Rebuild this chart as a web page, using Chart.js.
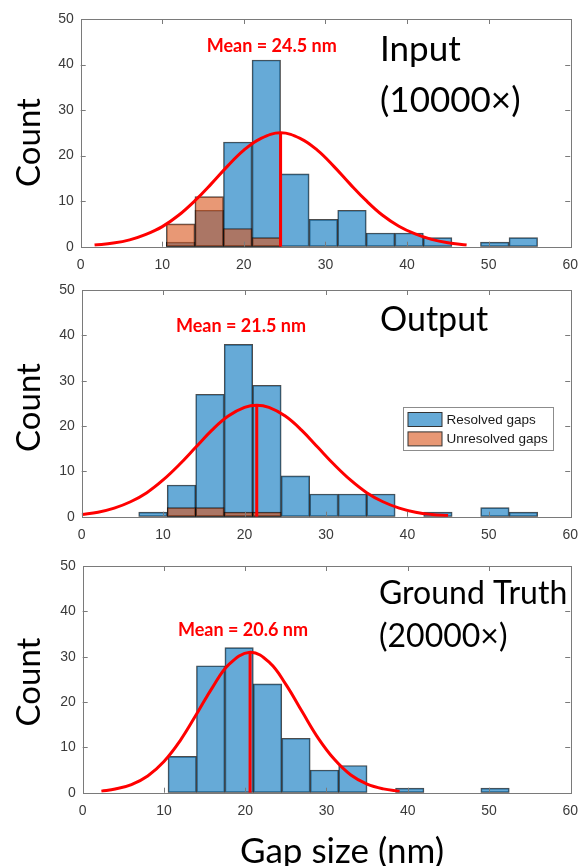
<!DOCTYPE html>
<html>
<head>
<meta charset="utf-8">
<script src="https://cdn.jsdelivr.net/npm/chart.js@4.4.0/dist/chart.umd.min.js"></script>
<style>
  html, body { margin: 0; padding: 0; background: #fff; }
  #wrap { position: relative; width: 588px; height: 866px; }
  #wrap canvas { position: absolute; left: 0; top: 0; }
</style>
</head>
<body>
<div id="wrap">
  <canvas id="chartInput" width="588" height="866"></canvas>
  <canvas id="chartOutput" width="588" height="866"></canvas>
  <canvas id="chartTruth" width="588" height="866"></canvas>
</div>
<script>
// histogram bins, 3.5 nm wide (7 ... 56 nm)
const binCenters = [8.75, 12.25, 15.75, 19.25, 22.75, 26.25, 29.75, 33.25, 36.75, 40.25, 43.75, 47.25, 50.75, 54.25];

const inputResolved   = [0, 1, 8, 23, 41, 16, 6, 8, 3, 3, 2, 0, 1, 2];
const inputUnresolved = [0, 5, 11, 4, 2, 0, 0, 0, 0, 0, 0, 0, 0, 0];
const outputResolved   = [1, 7, 27, 38, 29, 9, 5, 5, 5, 0, 1, 0, 2, 1];
const outputUnresolved = [0, 2, 2, 1, 1, 0, 0, 0, 0, 0, 0, 0, 0, 0];
const truthResolved = [0, 8, 28, 32, 24, 12, 5, 6, 0, 1, 0, 0, 1, 0];

// fitted normal curves
const inputFitX = [1.7, 4, 6, 8, 10, 12, 14, 16, 18, 20, 22, 24.5, 27, 29, 31, 33, 35, 37, 39, 41, 43, 45, 47.3];
const inputFitY = [0.35, 0.8, 1.5, 2.7, 4.4, 6.9, 10.1, 13.8, 17.7, 21.2, 23.7, 25, 23.7, 21.2, 17.7, 13.8, 10.1, 6.9, 4.5, 2.8, 1.6, 0.85, 0.35];
const outputFitX = [0, 2, 4, 6, 8, 10, 12, 14, 16, 18, 20, 21.5, 23, 25, 27, 29, 31, 33, 35, 37, 39, 41, 43, 45];
const outputFitY = [0.5, 1.0, 1.9, 3.3, 5.3, 8.1, 11.5, 15.3, 19.1, 22.2, 24.1, 24.6, 24.1, 22.2, 19.1, 15.3, 11.5, 8.1, 5.3, 3.3, 1.9, 1.0, 0.5, 0.25];
const truthFitX = [2.3, 4, 6, 8, 10, 12, 14, 16, 18, 20.6, 23, 25, 27, 29, 31, 33, 35, 37, 39];
const truthFitY = [0.35, 0.8, 1.8, 3.7, 6.9, 11.5, 17.3, 23.3, 28.3, 31, 28.7, 23.9, 17.9, 12.0, 7.3, 3.9, 1.9, 0.85, 0.35];

const meanValues = [24.5, 21.5, 20.6];
const meanPeaks = [25, 24.6, 31];
const meanLabels = ['Mean = 24.5 nm', 'Mean = 21.5 nm', 'Mean = 20.6 nm'];
const panelTitles = [['Input', '(10000×)'], ['Output'], ['Ground Truth', '(20000×)']];
const seriesNames = ['Resolved gaps', 'Unresolved gaps'];

const blueFill = 'rgba(0,114,189,0.6)';
const orangeFill = 'rgba(217,83,25,0.6)';
const tickFont = { family: "'Liberation Sans', Arial, sans-serif", size: 14 };
const textFamily = "Lato, 'Open Sans', sans-serif";

function toBars(values) {
    return binCenters.map((x, i) => ({ x: x, y: values[i] === 0 ? null : values[i] }));
}

function toLine(xs, ys) {
    return xs.map((x, i) => ({ x: x, y: ys[i] }));
}

const panelDecor = {
    id: 'panelDecor',
    afterDatasetsDraw(chart, args, opts) {
        const ctx = chart.ctx;
        const a = chart.chartArea;
        const xs = chart.scales.x, ys = chart.scales.y;
        ctx.save();
        ctx.strokeStyle = '#7a7a7a';
        ctx.lineWidth = 1;
        ctx.beginPath();
        for (let v = 10; v < 60; v += 10) {
            let px = Math.round(xs.getPixelForValue(v)) + 0.5;
            ctx.moveTo(px, a.bottom); ctx.lineTo(px, a.bottom - 5);
            ctx.moveTo(px, a.top); ctx.lineTo(px, a.top + 5);
        }
        for (let v = 10; v < 50; v += 10) {
            let py = Math.round(ys.getPixelForValue(v)) + 0.5;
            ctx.moveTo(a.left, py); ctx.lineTo(a.left + 5, py);
            ctx.moveTo(a.right, py); ctx.lineTo(a.right - 5, py);
        }
        ctx.stroke();
        ctx.strokeRect(Math.round(a.left) + 0.5, Math.round(a.top) + 0.5,
            Math.round(a.right - a.left), Math.round(a.bottom - a.top));
        ctx.restore();
    },
    afterDraw(chart, args, opts) {
        const ctx = chart.ctx;
        ctx.save();
        // y title
        ctx.fillStyle = '#000';
        ctx.font = '33px ' + textFamily;
        ctx.translate(40, opts.countY);
        ctx.rotate(-Math.PI / 2);
        ctx.textAlign = 'center';
        ctx.textBaseline = 'alphabetic';
        ctx.fillText('Count', 0, 0);
        ctx.restore();

        ctx.save();
        ctx.fillStyle = '#ff0000';
        ctx.font = 'bold 18px ' + textFamily;
        ctx.textAlign = 'center';
        ctx.textBaseline = 'middle';
        ctx.fillText(opts.meanText, opts.meanPos[0], opts.meanPos[1]);

        ctx.fillStyle = '#000';
        ctx.textAlign = 'left';
        ctx.textBaseline = 'alphabetic';
        ctx.font = opts.titleSize + 'px ' + textFamily;
        opts.title.forEach((line, i) => {
            ctx.fillText(line, opts.titlePos[0], opts.titlePos[1] + i * opts.titleGap);
        });

        if (opts.xTitle) {
            ctx.font = '35px ' + textFamily;
            ctx.textAlign = 'center';
            ctx.fillText(opts.xTitle, 342, 863);
        }

        if (opts.legend) {
            const bars = chart.data.datasets.filter(d => d.type !== 'line').reverse();
            const lx = 403.5, ly = 407.5, lw = 150, lh = 43;
            ctx.fillStyle = '#fff';
            ctx.fillRect(lx, ly, lw, lh);
            ctx.strokeStyle = '#8c8c8c';
            ctx.lineWidth = 1;
            ctx.strokeRect(lx, ly, lw, lh);
            ctx.font = '13.5px ' + tickFont.family;
            ctx.textBaseline = 'middle';
            ctx.textAlign = 'left';
            bars.forEach((d, i) => {
                let sy = 412.5 + i * 19.4;
                ctx.fillStyle = d.backgroundColor;
                ctx.fillRect(408, sy, 34, 14);
                ctx.strokeStyle = '#333';
                ctx.strokeRect(408, sy, 34, 14);
                ctx.fillStyle = '#1a1a1a';
                ctx.fillText(d.label, 446.5, sy + 7.5);
            });
        }
        ctx.restore();
    }
};

function renderPanel(canvasId, p) {
    let datasets = [
        {
            type: 'line', label: 'fit', data: toLine(p.fitX, p.fitY),
            borderColor: '#ff0000', borderWidth: 3, pointRadius: 0, tension: 0.4, fill: false, order: 0
        },
        {
            type: 'line', label: 'mean', data: [{ x: p.mean, y: 0 }, { x: p.mean, y: p.peak }],
            borderColor: '#ff0000', borderWidth: 3, pointRadius: 0, tension: 0, fill: false, order: 0
        }
    ];
    if (p.unresolved) {
        datasets.push({
            label: seriesNames[1], data: toBars(p.unresolved), backgroundColor: orangeFill,
            borderColor: 'rgba(0,0,0,0.7)', borderWidth: 1, borderSkipped: false,
            grouped: false, barPercentage: 1, categoryPercentage: 1, order: 1
        });
    }
    datasets.push({
        label: seriesNames[0], data: toBars(p.resolved), backgroundColor: blueFill,
        borderColor: 'rgba(0,0,0,0.7)', borderWidth: 1, borderSkipped: false,
        grouped: false, barPercentage: 1, categoryPercentage: 1, order: 2
    });

    let config = {
        type: 'bar',
        data: { datasets: datasets },
        options: {
            responsive: false,
            animation: false,
            layout: { autoPadding: false, padding: { top: p.top, right: 588 - p.right, left: 0, bottom: 0 } },
            scales: {
                x: {
                    type: 'linear', min: 0, max: 60, offset: false,
                    ticks: { stepSize: 10, font: tickFont, color: '#3a3a3a', padding: 10, maxRotation: 0 },
                    grid: { display: false, drawTicks: false, offset: false },
                    border: { display: false },
                    afterFit: s => { s.height = 866 - p.bottom; }
                },
                y: {
                    min: 0, max: 50,
                    ticks: { stepSize: 10, font: tickFont, color: '#3a3a3a', padding: 7 },
                    grid: { display: false, drawTicks: false },
                    border: { display: false },
                    afterFit: s => { s.width = p.left; }
                }
            },
            plugins: {
                legend: { display: false },
                tooltip: { enabled: false },
                panelDecor: {
                    countY: p.countY, meanText: p.meanText, meanPos: p.meanPos,
                    title: p.title, titlePos: p.titlePos, titleSize: p.titleSize, titleGap: p.titleGap,
                    legend: p.legend, xTitle: p.xTitle
                }
            }
        },
        plugins: [panelDecor]
    };
    return new Chart(document.getElementById(canvasId), config);
}

renderPanel('chartInput', {
    left: 80.7, right: 573.3, top: 19, bottom: 246.7,
    resolved: inputResolved, unresolved: inputUnresolved,
    fitX: inputFitX, fitY: inputFitY, mean: meanValues[0], peak: meanPeaks[0],
    countY: 142.5, meanText: meanLabels[0], meanPos: [271.7, 46.5],
    title: panelTitles[0], titlePos: [380, 61], titleSize: 35, titleGap: 50.7
});
renderPanel('chartOutput', {
    left: 81.7, right: 573.3, top: 290, bottom: 516.7,
    resolved: outputResolved, unresolved: outputUnresolved,
    fitX: outputFitX, fitY: outputFitY, mean: meanValues[1], peak: meanPeaks[1],
    countY: 407.5, meanText: meanLabels[1], meanPos: [241, 326],
    title: panelTitles[1], titlePos: [380, 330.7], titleSize: 34, titleGap: 0,
    legend: true
});
renderPanel('chartTruth', {
    left: 82.7, right: 572.7, top: 566, bottom: 792.7,
    resolved: truthResolved, unresolved: null,
    fitX: truthFitX, fitY: truthFitY, mean: meanValues[2], peak: meanPeaks[2],
    countY: 682, meanText: meanLabels[2], meanPos: [243, 630],
    title: panelTitles[2], titlePos: [379, 604], titleSize: 32, titleGap: 42.7,
    xTitle: 'Gap size (nm)'
});
</script>
</body>
</html>
